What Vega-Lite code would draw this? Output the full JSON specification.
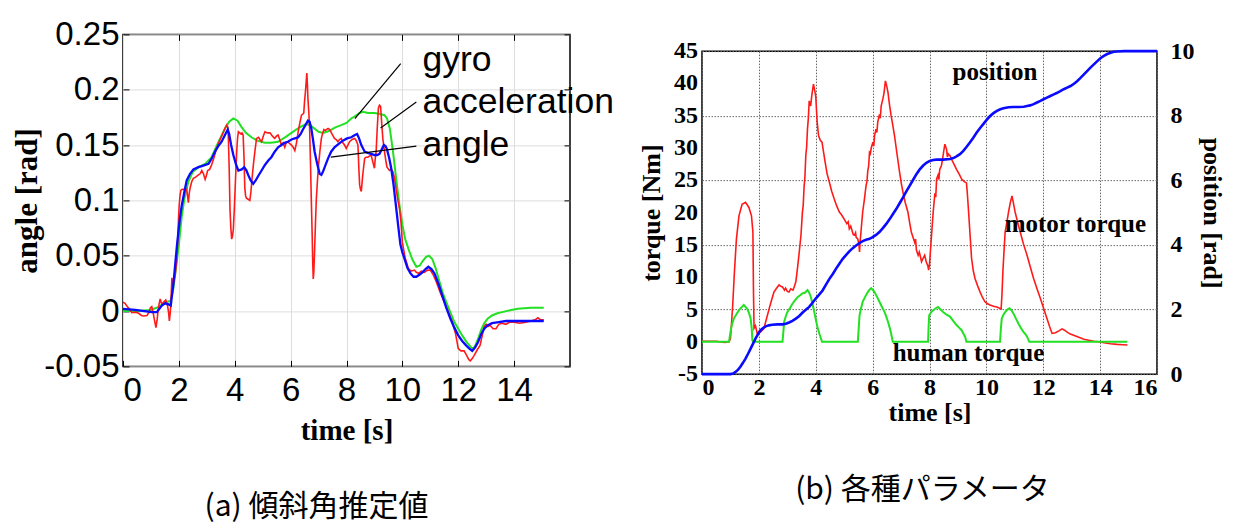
{
  "$schema": "https://vega.github.io/schema/vega-lite/v6.json",
  "background": "white",
  "padding": {"left": 11, "top": 17, "right": 5, "bottom": 12},
  "spacing": 22,
  "center": true,
  "config": {
    "view": {"stroke": "black", "strokeWidth": 1.5},
    "axis": {"domain": false, "labelColor": "black", "titleColor": "black", "tickColor": "black", "labelOverlap": false},
    "title": {"color": "black"}
  },
  "datasets": {
    "gyro": [
      {"t":0,"v":0.0},{"t":0.5,"v":0.0},{"t":1.0,"v":0.001},{"t":1.3,"v":0.004},{"t":1.5,"v":0.008},{"t":1.7,"v":0.009},{"t":1.8,"v":0.02},{"t":1.9,"v":0.04},{"t":2.0,"v":0.06},{"t":2.1,"v":0.085},{"t":2.2,"v":0.102},{"t":2.34,"v":0.117},{"t":2.5,"v":0.126},{"t":2.7,"v":0.13},{"t":2.94,"v":0.133},{"t":3.17,"v":0.139},{"t":3.4,"v":0.152},{"t":3.65,"v":0.165},{"t":3.8,"v":0.171},{"t":3.95,"v":0.174},{"t":4.1,"v":0.172},{"t":4.25,"v":0.166},{"t":4.4,"v":0.161},{"t":4.6,"v":0.157},{"t":4.8,"v":0.154},{"t":5.08,"v":0.152},{"t":5.3,"v":0.152},{"t":5.55,"v":0.153},{"t":5.8,"v":0.157},{"t":6.03,"v":0.161},{"t":6.2,"v":0.164},{"t":6.4,"v":0.167},{"t":6.56,"v":0.169},{"t":6.7,"v":0.168},{"t":6.85,"v":0.165},{"t":7.0,"v":0.162},{"t":7.16,"v":0.161},{"t":7.3,"v":0.162},{"t":7.46,"v":0.164},{"t":7.6,"v":0.166},{"t":7.81,"v":0.168},{"t":8.0,"v":0.17},{"t":8.17,"v":0.174},{"t":8.3,"v":0.176},{"t":8.47,"v":0.179},{"t":8.6,"v":0.18},{"t":8.76,"v":0.179},{"t":9.0,"v":0.179},{"t":9.2,"v":0.178},{"t":9.36,"v":0.177},{"t":9.45,"v":0.174},{"t":9.55,"v":0.165},{"t":9.66,"v":0.145},{"t":9.8,"v":0.115},{"t":9.9,"v":0.095},{"t":10.0,"v":0.078},{"t":10.1,"v":0.065},{"t":10.22,"v":0.056},{"t":10.35,"v":0.047},{"t":10.5,"v":0.04},{"t":10.62,"v":0.041},{"t":10.72,"v":0.045},{"t":10.85,"v":0.049},{"t":10.95,"v":0.05},{"t":11.07,"v":0.047},{"t":11.2,"v":0.038},{"t":11.3,"v":0.029},{"t":11.45,"v":0.016},{"t":11.57,"v":0.008},{"t":11.7,"v":0.0},{"t":11.86,"v":-0.01},{"t":12.0,"v":-0.016},{"t":12.14,"v":-0.022},{"t":12.3,"v":-0.028},{"t":12.5,"v":-0.034},{"t":12.6,"v":-0.032},{"t":12.71,"v":-0.025},{"t":12.82,"v":-0.017},{"t":12.93,"v":-0.011},{"t":13.05,"v":-0.007},{"t":13.21,"v":-0.004},{"t":13.4,"v":-0.002},{"t":13.57,"v":-0.001},{"t":13.9,"v":0.001},{"t":14.13,"v":0.002},{"t":14.6,"v":0.003},{"t":15.06,"v":0.003}
    ],
    "acceleration": [
      {"t":0,"v":0.008},{"t":0.07,"v":0.007},{"t":0.14,"v":0.0045},{"t":0.25,"v":0.001},{"t":0.32,"v":-0.0015},{"t":0.45,"v":-0.001},{"t":0.56,"v":-0.002},{"t":0.66,"v":-0.004},{"t":0.74,"v":-0.0045},{"t":0.86,"v":-0.004},{"t":0.93,"v":-0.001},{"t":0.98,"v":0.003},{"t":1.03,"v":0.004},{"t":1.09,"v":-0.003},{"t":1.14,"v":-0.01},{"t":1.18,"v":-0.015},{"t":1.22,"v":-0.008},{"t":1.25,"v":-0.001},{"t":1.29,"v":0.006},{"t":1.33,"v":0.011},{"t":1.39,"v":0.006},{"t":1.45,"v":0.008},{"t":1.53,"v":0.01},{"t":1.6,"v":0.004},{"t":1.63,"v":-0.001},{"t":1.66,"v":-0.009},{"t":1.69,"v":-0.002},{"t":1.71,"v":0.005},{"t":1.75,"v":0.03},{"t":1.78,"v":0.022},{"t":1.81,"v":0.026},{"t":1.87,"v":0.033},{"t":1.92,"v":0.045},{"t":1.96,"v":0.065},{"t":1.99,"v":0.085},{"t":2.01,"v":0.095},{"t":2.04,"v":0.104},{"t":2.07,"v":0.109},{"t":2.12,"v":0.11},{"t":2.16,"v":0.11},{"t":2.22,"v":0.109},{"t":2.28,"v":0.11},{"t":2.32,"v":0.102},{"t":2.34,"v":0.098},{"t":2.37,"v":0.106},{"t":2.4,"v":0.111},{"t":2.46,"v":0.117},{"t":2.52,"v":0.12},{"t":2.6,"v":0.121},{"t":2.7,"v":0.123},{"t":2.76,"v":0.124},{"t":2.82,"v":0.127},{"t":2.88,"v":0.124},{"t":2.94,"v":0.119},{"t":2.98,"v":0.122},{"t":3.03,"v":0.127},{"t":3.1,"v":0.128},{"t":3.17,"v":0.132},{"t":3.26,"v":0.139},{"t":3.35,"v":0.147},{"t":3.44,"v":0.153},{"t":3.53,"v":0.158},{"t":3.6,"v":0.162},{"t":3.65,"v":0.165},{"t":3.71,"v":0.168},{"t":3.75,"v":0.166},{"t":3.77,"v":0.158},{"t":3.8,"v":0.13},{"t":3.83,"v":0.092},{"t":3.86,"v":0.075},{"t":3.89,"v":0.065},{"t":3.92,"v":0.068},{"t":3.95,"v":0.074},{"t":3.98,"v":0.09},{"t":4.01,"v":0.108},{"t":4.04,"v":0.127},{"t":4.07,"v":0.144},{"t":4.1,"v":0.156},{"t":4.13,"v":0.162},{"t":4.18,"v":0.161},{"t":4.22,"v":0.16},{"t":4.26,"v":0.161},{"t":4.3,"v":0.159},{"t":4.33,"v":0.14},{"t":4.36,"v":0.111},{"t":4.39,"v":0.104},{"t":4.42,"v":0.102},{"t":4.48,"v":0.101},{"t":4.54,"v":0.1},{"t":4.58,"v":0.108},{"t":4.62,"v":0.12},{"t":4.67,"v":0.133},{"t":4.72,"v":0.144},{"t":4.78,"v":0.156},{"t":4.85,"v":0.157},{"t":4.9,"v":0.155},{"t":4.96,"v":0.153},{"t":5.02,"v":0.158},{"t":5.08,"v":0.162},{"t":5.17,"v":0.161},{"t":5.26,"v":0.161},{"t":5.35,"v":0.158},{"t":5.43,"v":0.156},{"t":5.49,"v":0.158},{"t":5.55,"v":0.159},{"t":5.61,"v":0.155},{"t":5.67,"v":0.15},{"t":5.73,"v":0.152},{"t":5.79,"v":0.148},{"t":5.85,"v":0.153},{"t":5.94,"v":0.152},{"t":6.03,"v":0.15},{"t":6.09,"v":0.148},{"t":6.15,"v":0.145},{"t":6.21,"v":0.152},{"t":6.27,"v":0.162},{"t":6.33,"v":0.17},{"t":6.39,"v":0.177},{"t":6.44,"v":0.178},{"t":6.47,"v":0.179},{"t":6.5,"v":0.19},{"t":6.53,"v":0.198},{"t":6.56,"v":0.208},{"t":6.58,"v":0.215},{"t":6.6,"v":0.205},{"t":6.62,"v":0.192},{"t":6.65,"v":0.18},{"t":6.68,"v":0.165},{"t":6.71,"v":0.135},{"t":6.74,"v":0.101},{"t":6.77,"v":0.07},{"t":6.79,"v":0.045},{"t":6.81,"v":0.029},{"t":6.83,"v":0.035},{"t":6.86,"v":0.056},{"t":6.89,"v":0.08},{"t":6.92,"v":0.101},{"t":6.96,"v":0.118},{"t":7.0,"v":0.132},{"t":7.05,"v":0.145},{"t":7.1,"v":0.156},{"t":7.15,"v":0.161},{"t":7.19,"v":0.164},{"t":7.24,"v":0.163},{"t":7.28,"v":0.164},{"t":7.34,"v":0.165},{"t":7.4,"v":0.164},{"t":7.48,"v":0.16},{"t":7.57,"v":0.156},{"t":7.63,"v":0.155},{"t":7.69,"v":0.153},{"t":7.75,"v":0.155},{"t":7.81,"v":0.156},{"t":7.87,"v":0.152},{"t":7.93,"v":0.15},{"t":7.99,"v":0.147},{"t":8.05,"v":0.15},{"t":8.11,"v":0.153},{"t":8.2,"v":0.155},{"t":8.29,"v":0.156},{"t":8.35,"v":0.154},{"t":8.41,"v":0.15},{"t":8.44,"v":0.13},{"t":8.47,"v":0.114},{"t":8.5,"v":0.11},{"t":8.53,"v":0.108},{"t":8.56,"v":0.117},{"t":8.59,"v":0.125},{"t":8.65,"v":0.138},{"t":8.7,"v":0.139},{"t":8.76,"v":0.139},{"t":8.82,"v":0.14},{"t":8.88,"v":0.141},{"t":8.94,"v":0.135},{"t":9.0,"v":0.129},{"t":9.03,"v":0.138},{"t":9.06,"v":0.144},{"t":9.1,"v":0.165},{"t":9.14,"v":0.183},{"t":9.18,"v":0.186},{"t":9.22,"v":0.185},{"t":9.26,"v":0.17},{"t":9.3,"v":0.156},{"t":9.36,"v":0.144},{"t":9.42,"v":0.134},{"t":9.45,"v":0.13},{"t":9.54,"v":0.127},{"t":9.6,"v":0.128},{"t":9.66,"v":0.126},{"t":9.72,"v":0.12},{"t":9.77,"v":0.111},{"t":9.84,"v":0.1},{"t":9.9,"v":0.092},{"t":9.95,"v":0.08},{"t":10.0,"v":0.062},{"t":10.1,"v":0.048},{"t":10.22,"v":0.038},{"t":10.32,"v":0.036},{"t":10.43,"v":0.037},{"t":10.5,"v":0.035},{"t":10.58,"v":0.034},{"t":10.68,"v":0.036},{"t":10.79,"v":0.035},{"t":10.9,"v":0.037},{"t":11.0,"v":0.037},{"t":11.1,"v":0.033},{"t":11.22,"v":0.026},{"t":11.35,"v":0.017},{"t":11.5,"v":0.008},{"t":11.65,"v":-0.001},{"t":11.79,"v":-0.01},{"t":11.9,"v":-0.02},{"t":12.0,"v":-0.034},{"t":12.1,"v":-0.036},{"t":12.21,"v":-0.036},{"t":12.3,"v":-0.04},{"t":12.38,"v":-0.044},{"t":12.43,"v":-0.045},{"t":12.5,"v":-0.043},{"t":12.57,"v":-0.04},{"t":12.68,"v":-0.035},{"t":12.78,"v":-0.031},{"t":12.86,"v":-0.022},{"t":12.93,"v":-0.014},{"t":13.0,"v":-0.012},{"t":13.07,"v":-0.014},{"t":13.14,"v":-0.013},{"t":13.25,"v":-0.016},{"t":13.35,"v":-0.016},{"t":13.45,"v":-0.012},{"t":13.57,"v":-0.011},{"t":13.7,"v":-0.012},{"t":13.85,"v":-0.01},{"t":14.0,"v":-0.01},{"t":14.2,"v":-0.011},{"t":14.42,"v":-0.01},{"t":14.6,"v":-0.009},{"t":14.75,"v":-0.008},{"t":14.85,"v":-0.006},{"t":14.95,"v":-0.008},{"t":15.06,"v":-0.008}
    ],
    "angle": [
      {"t":0,"v":0.002},{"t":0.44,"v":0.001},{"t":1.03,"v":-0.001},{"t":1.21,"v":-0.001},{"t":1.39,"v":0.005},{"t":1.51,"v":0.007},{"t":1.63,"v":0.006},{"t":1.71,"v":0.005},{"t":1.81,"v":0.026},{"t":1.93,"v":0.059},{"t":2.02,"v":0.08},{"t":2.1,"v":0.095},{"t":2.2,"v":0.108},{"t":2.28,"v":0.118},{"t":2.4,"v":0.124},{"t":2.52,"v":0.128},{"t":2.7,"v":0.13},{"t":2.82,"v":0.131},{"t":3.06,"v":0.133},{"t":3.18,"v":0.138},{"t":3.29,"v":0.144},{"t":3.41,"v":0.149},{"t":3.53,"v":0.153},{"t":3.65,"v":0.159},{"t":3.75,"v":0.164},{"t":3.8,"v":0.16},{"t":3.87,"v":0.15},{"t":3.95,"v":0.141},{"t":4.05,"v":0.132},{"t":4.13,"v":0.127},{"t":4.25,"v":0.128},{"t":4.34,"v":0.13},{"t":4.42,"v":0.127},{"t":4.48,"v":0.123},{"t":4.57,"v":0.118},{"t":4.66,"v":0.115},{"t":4.75,"v":0.118},{"t":4.84,"v":0.122},{"t":4.96,"v":0.127},{"t":5.08,"v":0.132},{"t":5.2,"v":0.136},{"t":5.31,"v":0.139},{"t":5.43,"v":0.144},{"t":5.55,"v":0.148},{"t":5.67,"v":0.15},{"t":5.79,"v":0.152},{"t":5.9,"v":0.153},{"t":6.03,"v":0.155},{"t":6.15,"v":0.156},{"t":6.27,"v":0.157},{"t":6.36,"v":0.16},{"t":6.44,"v":0.164},{"t":6.53,"v":0.168},{"t":6.62,"v":0.172},{"t":6.68,"v":0.171},{"t":6.74,"v":0.165},{"t":6.8,"v":0.155},{"t":6.86,"v":0.144},{"t":6.95,"v":0.133},{"t":7.04,"v":0.124},{"t":7.1,"v":0.123},{"t":7.16,"v":0.126},{"t":7.25,"v":0.132},{"t":7.34,"v":0.138},{"t":7.45,"v":0.144},{"t":7.57,"v":0.148},{"t":7.72,"v":0.151},{"t":7.87,"v":0.154},{"t":8.02,"v":0.156},{"t":8.17,"v":0.157},{"t":8.3,"v":0.159},{"t":8.38,"v":0.16},{"t":8.45,"v":0.156},{"t":8.53,"v":0.15},{"t":8.65,"v":0.144},{"t":8.76,"v":0.143},{"t":8.88,"v":0.142},{"t":9.0,"v":0.141},{"t":9.1,"v":0.141},{"t":9.18,"v":0.142},{"t":9.24,"v":0.145},{"t":9.34,"v":0.15},{"t":9.4,"v":0.149},{"t":9.45,"v":0.146},{"t":9.53,"v":0.138},{"t":9.6,"v":0.129},{"t":9.68,"v":0.115},{"t":9.77,"v":0.095},{"t":9.86,"v":0.075},{"t":9.93,"v":0.06},{"t":10.0,"v":0.053},{"t":10.08,"v":0.047},{"t":10.18,"v":0.039},{"t":10.29,"v":0.034},{"t":10.4,"v":0.031},{"t":10.5,"v":0.031},{"t":10.62,"v":0.033},{"t":10.72,"v":0.035},{"t":10.83,"v":0.038},{"t":10.93,"v":0.04},{"t":11.04,"v":0.038},{"t":11.15,"v":0.034},{"t":11.3,"v":0.024},{"t":11.43,"v":0.014},{"t":11.57,"v":0.003},{"t":11.72,"v":-0.007},{"t":11.86,"v":-0.015},{"t":12.0,"v":-0.022},{"t":12.14,"v":-0.027},{"t":12.28,"v":-0.031},{"t":12.4,"v":-0.034},{"t":12.5,"v":-0.036},{"t":12.6,"v":-0.033},{"t":12.71,"v":-0.028},{"t":12.82,"v":-0.021},{"t":12.93,"v":-0.016},{"t":13.05,"v":-0.013},{"t":13.21,"v":-0.011},{"t":13.45,"v":-0.01},{"t":13.71,"v":-0.009},{"t":14.0,"v":-0.009},{"t":14.42,"v":-0.009},{"t":15.06,"v":-0.009}
    ],
    "angleLabels": [
      {"t":10.72,"v":0.2265,"label":"gyro"},
      {"t":10.72,"v":0.189,"label":"acceleration"},
      {"t":10.72,"v":0.15,"label":"angle"}
    ],
    "angleLeaders": [
      {"t":9.94,"v":0.2235,"t2":8.3,"v2":0.1738},
      {"t":10.5,"v":0.1889,"t2":9.22,"v2":0.1654},
      {"t":10.5,"v":0.149,"t2":7.44,"v2":0.139}
    ],
    "motor": [
      {"t":0,"q":0.1},{"t":0.5,"q":0.1},{"t":0.8,"q":-0.1},{"t":0.95,"q":0.0},{"t":1.0,"q":0.5},{"t":1.04,"q":3},{"t":1.08,"q":5.7},{"t":1.14,"q":10.8},{"t":1.21,"q":15.9},{"t":1.3,"q":19.5},{"t":1.41,"q":21.3},{"t":1.53,"q":21.6},{"t":1.65,"q":20.8},{"t":1.74,"q":19.5},{"t":1.79,"q":17},{"t":1.81,"q":8},{"t":1.83,"q":2.1},{"t":1.88,"q":2.5},{"t":1.94,"q":1.3},{"t":2.0,"q":1.6},{"t":2.06,"q":1.5},{"t":2.12,"q":1.8},{"t":2.18,"q":2.1},{"t":2.24,"q":3.1},{"t":2.36,"q":5.1},{"t":2.45,"q":6.5},{"t":2.53,"q":7.7},{"t":2.62,"q":8.3},{"t":2.71,"q":8.8},{"t":2.77,"q":8.6},{"t":2.83,"q":8.5},{"t":2.9,"q":8.0},{"t":2.94,"q":8.3},{"t":3.0,"q":7.8},{"t":3.06,"q":7.7},{"t":3.12,"q":8.2},{"t":3.2,"q":8.0},{"t":3.25,"q":8.6},{"t":3.3,"q":9.3},{"t":3.36,"q":11.5},{"t":3.42,"q":13.9},{"t":3.48,"q":16.5},{"t":3.53,"q":20},{"t":3.56,"q":21.2},{"t":3.59,"q":24},{"t":3.62,"q":25.6},{"t":3.65,"q":28.8},{"t":3.68,"q":30.2},{"t":3.71,"q":33},{"t":3.74,"q":34.6},{"t":3.77,"q":37.3},{"t":3.82,"q":36.5},{"t":3.86,"q":38.1},{"t":3.92,"q":39.9},{"t":3.96,"q":39},{"t":4.0,"q":38},{"t":4.05,"q":34},{"t":4.1,"q":31.9},{"t":4.16,"q":31.2},{"t":4.22,"q":30.9},{"t":4.27,"q":29.5},{"t":4.33,"q":27.8},{"t":4.4,"q":26},{"t":4.48,"q":24.7},{"t":4.56,"q":23.3},{"t":4.65,"q":22.1},{"t":4.74,"q":21},{"t":4.83,"q":20.1},{"t":4.9,"q":19.7},{"t":5.0,"q":19},{"t":5.09,"q":18.3},{"t":5.14,"q":18.6},{"t":5.18,"q":17.5},{"t":5.23,"q":17.9},{"t":5.27,"q":17.3},{"t":5.32,"q":16.6},{"t":5.36,"q":16.5},{"t":5.4,"q":16.9},{"t":5.42,"q":16.2},{"t":5.48,"q":15.9},{"t":5.52,"q":15},{"t":5.54,"q":13.9},{"t":5.56,"q":15.5},{"t":5.59,"q":17},{"t":5.65,"q":20.1},{"t":5.71,"q":22},{"t":5.77,"q":24.2},{"t":5.8,"q":24.8},{"t":5.83,"q":26.5},{"t":5.86,"q":27.2},{"t":5.89,"q":29.3},{"t":5.92,"q":29.1},{"t":5.95,"q":30},{"t":6.01,"q":30.9},{"t":6.04,"q":30.3},{"t":6.07,"q":32},{"t":6.12,"q":32.9},{"t":6.15,"q":32.4},{"t":6.18,"q":34},{"t":6.24,"q":35.2},{"t":6.27,"q":34.6},{"t":6.3,"q":36.5},{"t":6.36,"q":37.6},{"t":6.4,"q":38.5},{"t":6.45,"q":40.4},{"t":6.5,"q":39.5},{"t":6.54,"q":38.6},{"t":6.6,"q":36.5},{"t":6.65,"q":35},{"t":6.71,"q":33.5},{"t":6.77,"q":31.9},{"t":6.86,"q":29},{"t":6.95,"q":26.2},{"t":7.01,"q":24.5},{"t":7.07,"q":23.1},{"t":7.15,"q":21.5},{"t":7.24,"q":20.1},{"t":7.3,"q":18.5},{"t":7.36,"q":17},{"t":7.42,"q":16.2},{"t":7.48,"q":15.4},{"t":7.51,"q":15.9},{"t":7.54,"q":14.2},{"t":7.6,"q":13.4},{"t":7.64,"q":13.9},{"t":7.68,"q":13.2},{"t":7.72,"q":12.4},{"t":7.77,"q":12.9},{"t":7.83,"q":13.4},{"t":7.89,"q":12.3},{"t":7.94,"q":11.8},{"t":7.97,"q":11.1},{"t":8.0,"q":12},{"t":8.03,"q":13.9},{"t":8.08,"q":17},{"t":8.13,"q":20.1},{"t":8.19,"q":23},{"t":8.22,"q":22.4},{"t":8.25,"q":25.2},{"t":8.3,"q":25.8},{"t":8.33,"q":25.1},{"t":8.36,"q":26.7},{"t":8.42,"q":27.3},{"t":8.46,"q":28.3},{"t":8.5,"q":29.5},{"t":8.54,"q":30.6},{"t":8.6,"q":29.8},{"t":8.63,"q":28.6},{"t":8.66,"q":29.1},{"t":8.72,"q":28.8},{"t":8.77,"q":28.3},{"t":8.86,"q":27.5},{"t":8.95,"q":26.7},{"t":9.04,"q":26},{"t":9.13,"q":25.2},{"t":9.22,"q":24.8},{"t":9.3,"q":24.6},{"t":9.33,"q":23},{"t":9.36,"q":21.1},{"t":9.42,"q":17},{"t":9.48,"q":12.9},{"t":9.54,"q":11},{"t":9.6,"q":9.8},{"t":9.69,"q":8.7},{"t":9.78,"q":7.7},{"t":9.86,"q":6.9},{"t":9.95,"q":6.2},{"t":10.04,"q":5.9},{"t":10.13,"q":5.7},{"t":10.25,"q":5.5},{"t":10.37,"q":5.4},{"t":10.52,"q":5.1},{"t":10.55,"q":7.5},{"t":10.58,"q":10.8},{"t":10.62,"q":14},{"t":10.66,"q":17},{"t":10.72,"q":18.5},{"t":10.78,"q":20.1},{"t":10.84,"q":21.5},{"t":10.9,"q":22.6},{"t":10.95,"q":21.5},{"t":11.01,"q":20.1},{"t":11.1,"q":18.5},{"t":11.19,"q":17},{"t":11.3,"q":15.2},{"t":11.43,"q":13.4},{"t":11.55,"q":11.5},{"t":11.66,"q":9.8},{"t":11.78,"q":8.2},{"t":11.9,"q":6.7},{"t":12.02,"q":5.1},{"t":12.13,"q":3.6},{"t":12.22,"q":2.4},{"t":12.31,"q":1.3},{"t":12.43,"q":1.4},{"t":12.55,"q":1.7},{"t":12.66,"q":2.0},{"t":12.75,"q":1.8},{"t":12.84,"q":1.5},{"t":12.95,"q":1.2},{"t":13.07,"q":1.0},{"t":13.25,"q":0.7},{"t":13.43,"q":0.4},{"t":13.6,"q":0.25},{"t":13.78,"q":0.1},{"t":13.95,"q":0.0},{"t":14.13,"q":-0.15},{"t":14.36,"q":-0.3},{"t":14.6,"q":-0.4},{"t":14.8,"q":-0.45},{"t":14.96,"q":-0.5}
    ],
    "human": [
      {"t":0,"q":0},{"t":0.95,"q":0},{"t":1.0,"q":1.5},{"t":1.06,"q":2.8},{"t":1.12,"q":3.6},{"t":1.2,"q":4.2},{"t":1.3,"q":4.9},{"t":1.38,"q":5.3},{"t":1.47,"q":5.7},{"t":1.53,"q":5.4},{"t":1.59,"q":5.1},{"t":1.65,"q":4.5},{"t":1.71,"q":3.6},{"t":1.75,"q":2.0},{"t":1.77,"q":0.3},{"t":1.79,"q":0},{"t":2.83,"q":0},{"t":2.86,"q":1.5},{"t":2.89,"q":3.1},{"t":2.95,"q":4.0},{"t":3.0,"q":4.6},{"t":3.09,"q":5.2},{"t":3.18,"q":5.9},{"t":3.27,"q":6.4},{"t":3.36,"q":6.9},{"t":3.45,"q":7.2},{"t":3.53,"q":7.5},{"t":3.62,"q":7.6},{"t":3.71,"q":8.0},{"t":3.77,"q":7.6},{"t":3.83,"q":6.9},{"t":3.89,"q":5.8},{"t":3.95,"q":4.6},{"t":4.0,"q":3.5},{"t":4.06,"q":2.3},{"t":4.14,"q":1.1},{"t":4.22,"q":0},{"t":5.48,"q":0},{"t":5.51,"q":2.0},{"t":5.54,"q":4.1},{"t":5.6,"q":5.3},{"t":5.65,"q":6.2},{"t":5.74,"q":7.0},{"t":5.83,"q":7.7},{"t":5.9,"q":8.1},{"t":5.95,"q":8.3},{"t":6.01,"q":8.0},{"t":6.07,"q":7.7},{"t":6.15,"q":7.0},{"t":6.24,"q":6.2},{"t":6.33,"q":5.4},{"t":6.42,"q":4.6},{"t":6.48,"q":3.9},{"t":6.54,"q":3.1},{"t":6.6,"q":2.2},{"t":6.65,"q":1.3},{"t":6.71,"q":0},{"t":7.95,"q":0},{"t":7.97,"q":2.5},{"t":7.99,"q":4.1},{"t":8.06,"q":4.6},{"t":8.13,"q":4.9},{"t":8.22,"q":5.2},{"t":8.3,"q":5.4},{"t":8.39,"q":5.0},{"t":8.48,"q":4.6},{"t":8.6,"q":4.2},{"t":8.72,"q":3.9},{"t":8.84,"q":3.2},{"t":8.95,"q":2.6},{"t":9.04,"q":2.2},{"t":9.13,"q":1.8},{"t":9.2,"q":1.2},{"t":9.25,"q":0.8},{"t":9.3,"q":0},{"t":10.48,"q":0},{"t":10.51,"q":2.0},{"t":10.54,"q":3.6},{"t":10.6,"q":4.2},{"t":10.66,"q":4.6},{"t":10.74,"q":5.0},{"t":10.81,"q":5.2},{"t":10.88,"q":4.9},{"t":10.95,"q":4.4},{"t":11.04,"q":3.6},{"t":11.13,"q":2.8},{"t":11.22,"q":2.1},{"t":11.31,"q":1.5},{"t":11.37,"q":1.2},{"t":11.43,"q":0.8},{"t":11.51,"q":0},{"t":14.96,"q":0}
    ],
    "position": [
      {"t":0,"p":0},{"t":0.5,"p":0},{"t":1.0,"p":0},{"t":1.09,"p":0.02},{"t":1.18,"p":0.07},{"t":1.27,"p":0.14},{"t":1.35,"p":0.23},{"t":1.44,"p":0.35},{"t":1.53,"p":0.48},{"t":1.62,"p":0.63},{"t":1.71,"p":0.79},{"t":1.8,"p":0.95},{"t":1.88,"p":1.1},{"t":1.97,"p":1.24},{"t":2.06,"p":1.36},{"t":2.15,"p":1.43},{"t":2.24,"p":1.48},{"t":2.35,"p":1.51},{"t":2.47,"p":1.53},{"t":2.65,"p":1.54},{"t":2.83,"p":1.54},{"t":2.95,"p":1.56},{"t":3.06,"p":1.6},{"t":3.18,"p":1.65},{"t":3.3,"p":1.72},{"t":3.42,"p":1.8},{"t":3.53,"p":1.9},{"t":3.65,"p":1.99},{"t":3.77,"p":2.08},{"t":3.88,"p":2.2},{"t":4.0,"p":2.34},{"t":4.12,"p":2.46},{"t":4.24,"p":2.59},{"t":4.36,"p":2.77},{"t":4.48,"p":2.95},{"t":4.6,"p":3.1},{"t":4.71,"p":3.26},{"t":4.83,"p":3.42},{"t":4.95,"p":3.57},{"t":5.07,"p":3.69},{"t":5.18,"p":3.8},{"t":5.3,"p":3.9},{"t":5.42,"p":3.98},{"t":5.54,"p":4.06},{"t":5.65,"p":4.12},{"t":5.77,"p":4.16},{"t":5.89,"p":4.19},{"t":6.0,"p":4.24},{"t":6.12,"p":4.31},{"t":6.24,"p":4.4},{"t":6.36,"p":4.52},{"t":6.48,"p":4.65},{"t":6.6,"p":4.8},{"t":6.71,"p":4.95},{"t":6.83,"p":5.11},{"t":6.95,"p":5.29},{"t":7.07,"p":5.47},{"t":7.18,"p":5.65},{"t":7.3,"p":5.83},{"t":7.42,"p":6.01},{"t":7.54,"p":6.19},{"t":7.65,"p":6.33},{"t":7.77,"p":6.45},{"t":7.89,"p":6.54},{"t":8.01,"p":6.6},{"t":8.13,"p":6.63},{"t":8.25,"p":6.64},{"t":8.48,"p":6.64},{"t":8.72,"p":6.66},{"t":8.84,"p":6.69},{"t":8.95,"p":6.74},{"t":9.07,"p":6.81},{"t":9.19,"p":6.91},{"t":9.3,"p":7.03},{"t":9.42,"p":7.17},{"t":9.54,"p":7.32},{"t":9.66,"p":7.48},{"t":9.78,"p":7.62},{"t":9.89,"p":7.74},{"t":10.01,"p":7.87},{"t":10.13,"p":7.99},{"t":10.25,"p":8.08},{"t":10.37,"p":8.15},{"t":10.49,"p":8.2},{"t":10.6,"p":8.23},{"t":10.78,"p":8.26},{"t":10.95,"p":8.27},{"t":11.13,"p":8.27},{"t":11.31,"p":8.28},{"t":11.43,"p":8.3},{"t":11.54,"p":8.32},{"t":11.66,"p":8.36},{"t":11.78,"p":8.41},{"t":11.9,"p":8.46},{"t":12.01,"p":8.51},{"t":12.13,"p":8.56},{"t":12.25,"p":8.61},{"t":12.37,"p":8.66},{"t":12.49,"p":8.71},{"t":12.6,"p":8.76},{"t":12.72,"p":8.82},{"t":12.84,"p":8.87},{"t":12.96,"p":8.92},{"t":13.08,"p":8.99},{"t":13.19,"p":9.07},{"t":13.31,"p":9.17},{"t":13.43,"p":9.28},{"t":13.55,"p":9.39},{"t":13.66,"p":9.49},{"t":13.78,"p":9.59},{"t":13.9,"p":9.69},{"t":14.01,"p":9.78},{"t":14.13,"p":9.85},{"t":14.25,"p":9.91},{"t":14.37,"p":9.95},{"t":14.48,"p":9.98},{"t":14.6,"p":9.99},{"t":14.84,"p":10.0},{"t":16,"p":10.0}
    ],
    "torqueLabels": [
      {"t":10.3,"q":41.8,"label":"position"},
      {"t":13.13,"q":18.3,"label":"motor torque"},
      {"t":9.37,"q":-1.8,"label":"human torque"}
    ],
    "torqueTicks": [
      {"q":-5,"label":"-5"},{"q":0,"label":"0"},{"q":5,"label":"5"},{"q":10,"label":"10"},{"q":15,"label":"15"},{"q":20,"label":"20"},
      {"q":25,"label":"25"},{"q":30,"label":"30"},{"q":35,"label":"35"},{"q":40,"label":"40"},{"q":45,"label":"45"}
    ]
  },
  "hconcat": [
    {
      "width": 447,
      "height": 332,
      "title": {"text": "(a) 傾斜角推定値", "orient": "bottom", "font": "Noto Sans CJK JP", "fontSize": 30, "fontWeight": "normal", "offset": 46, "dx": -30},
      "resolve": {"axis": {"x": "independent", "y": "independent"}},
      "layer": [
        {
          "data": {"name": "gyro"},
          "mark": {"type": "line", "color": "#22e022", "strokeWidth": 2},
          "encoding": {
            "x": {"field": "t", "type": "quantitative", "scale": {"domain": [0, 16], "nice": false},
              "axis": {"orient": "bottom", "values": [0, 2, 4, 6, 8, 10, 12, 14], "title": "time [s]", "labelOverlap": false,
                "labelFont": "Liberation Sans", "labelFontSize": 33, "tickSize": -6, "labelPadding": 14.5,
                "titleFont": "Liberation Serif", "titleFontWeight": "bold", "titleFontSize": 29, "titlePadding": 9}},
            "y": {"field": "v", "type": "quantitative", "scale": {"domain": [-0.05, 0.25], "nice": false, "zero": false},
              "axis": {"orient": "left", "values": [-0.05, 0, 0.05, 0.1, 0.15, 0.2, 0.25], "title": "angle [rad]", "labelOverlap": false,
                "labelExpr": "datum.value < 0 ? '-' + format(-datum.value, '~g') : format(datum.value, '~g')",
                "labelFont": "Liberation Sans", "labelFontSize": 33, "tickSize": -6, "labelPadding": 10,
                "titleFont": "Liberation Serif", "titleFontWeight": "bold", "titleFontSize": 31, "titlePadding": 0}}
          }
        },
        {
          "data": {"name": "acceleration"},
          "mark": {"type": "line", "color": "#ff1a1a", "strokeWidth": 1.6},
          "encoding": {
            "x": {"field": "t", "type": "quantitative", "axis": null},
            "y": {"field": "v", "type": "quantitative", "axis": null}
          }
        },
        {
          "data": {"name": "angle"},
          "mark": {"type": "line", "color": "#0a0aff", "strokeWidth": 2.3},
          "encoding": {
            "x": {"field": "t", "type": "quantitative", "axis": null},
            "y": {"field": "v", "type": "quantitative", "axis": null}
          }
        },
        {
          "data": {"name": "angleLeaders"},
          "mark": {"type": "rule", "color": "black", "strokeWidth": 1.2},
          "encoding": {
            "x": {"field": "t", "type": "quantitative", "axis": null},
            "y": {"field": "v", "type": "quantitative", "axis": null},
            "x2": {"field": "t2"},
            "y2": {"field": "v2"}
          }
        },
        {
          "data": {"name": "angleLabels"},
          "mark": {"type": "text", "align": "left", "baseline": "middle", "font": "Liberation Sans", "fontSize": 35.5, "color": "black"},
          "encoding": {
            "x": {"field": "t", "type": "quantitative",
              "axis": {"orient": "top", "values": [2, 4, 6, 8, 10, 12, 14], "labels": false, "title": null, "tickSize": -6}},
            "y": {"field": "v", "type": "quantitative",
              "axis": {"orient": "right", "values": [-0.05, 0, 0.05, 0.1, 0.15, 0.2, 0.25], "labels": false, "title": null, "tickSize": -6}},
            "text": {"field": "label"}
          }
        }
      ]
    },
    {
      "width": 455,
      "height": 323,
      "title": {"text": "(b) 各種パラメータ", "orient": "bottom", "font": "Noto Sans CJK JP", "fontSize": 30, "fontWeight": "normal", "offset": 50, "dx": -7},
      "resolve": {"scale": {"y": "independent"}},
      "layer": [
        {
          "layer": [
            {
              "data": {"name": "motor"},
              "mark": {"type": "line", "color": "#ff1a1a", "strokeWidth": 1.6},
              "encoding": {
                "x": {"field": "t", "type": "quantitative", "scale": {"domain": [0, 16], "nice": false},
                  "axis": {"orient": "bottom", "values": [0, 2, 4, 6, 8, 10, 12, 14, 16], "title": "time [s]", "labelOverlap": false,
                    "grid": true, "gridColor": "#666", "gridDash": [1.5, 1.5], "gridWidth": 1, "ticks": false,
                    "labelFont": "Liberation Serif", "labelFontWeight": "bold", "labelFontSize": 24, "labelPadding": 1,
                    "titleFont": "Liberation Serif", "titleFontWeight": "bold", "titleFontSize": 26, "titlePadding": 0}},
                "y": {"field": "q", "type": "quantitative", "scale": {"domain": [-5, 45], "nice": false, "zero": false},
                  "axis": {"orient": "left", "values": [-5, 0, 5, 10, 15, 20, 25, 30, 35, 40, 45], "title": "torque [Nm]",
                    "labels": false, "grid": true, "gridColor": "#666", "gridDash": [1.5, 1.5], "gridWidth": 1, "ticks": false,
                    "titleFont": "Liberation Serif", "titleFontWeight": "bold", "titleFontSize": 26, "titlePadding": 38}}
              }
            },
            {
              "data": {"name": "human"},
              "mark": {"type": "line", "color": "#22e022", "strokeWidth": 2},
              "encoding": {
                "x": {"field": "t", "type": "quantitative"},
                "y": {"field": "q", "type": "quantitative"}
              }
            },
            {
              "data": {"name": "torqueLabels"},
              "mark": {"type": "text", "align": "center", "baseline": "middle", "font": "Liberation Serif", "fontWeight": "bold", "fontSize": 25, "color": "black"},
              "encoding": {
                "x": {"field": "t", "type": "quantitative"},
                "y": {"field": "q", "type": "quantitative"},
                "text": {"field": "label"}
              }
            },
            {
              "data": {"name": "torqueTicks"},
              "mark": {"type": "text", "align": "right", "baseline": "middle", "dx": -4, "font": "Liberation Serif", "fontWeight": "bold", "fontSize": 24, "color": "black"},
              "encoding": {
                "x": {"datum": 0, "type": "quantitative"},
                "y": {"field": "q", "type": "quantitative"},
                "text": {"field": "label"}
              }
            }
          ]
        },
        {
          "data": {"name": "position"},
          "mark": {"type": "line", "color": "#0a0aff", "strokeWidth": 2.6},
          "encoding": {
            "x": {"field": "t", "type": "quantitative"},
            "y": {"field": "p", "type": "quantitative", "scale": {"domain": [0, 10], "nice": false},
              "axis": {"orient": "right", "values": [0, 2, 4, 6, 8, 10], "title": "position [rad]", "format": "d", "labelOverlap": false,
                "grid": false, "ticks": false,
                "labelFont": "Liberation Serif", "labelFontWeight": "bold", "labelFontSize": 24, "labelPadding": 13,
                "titleFont": "Liberation Serif", "titleFontWeight": "bold", "titleFontSize": 26, "titlePadding": 4}}
          }
        }
      ]
    }
  ]
}
